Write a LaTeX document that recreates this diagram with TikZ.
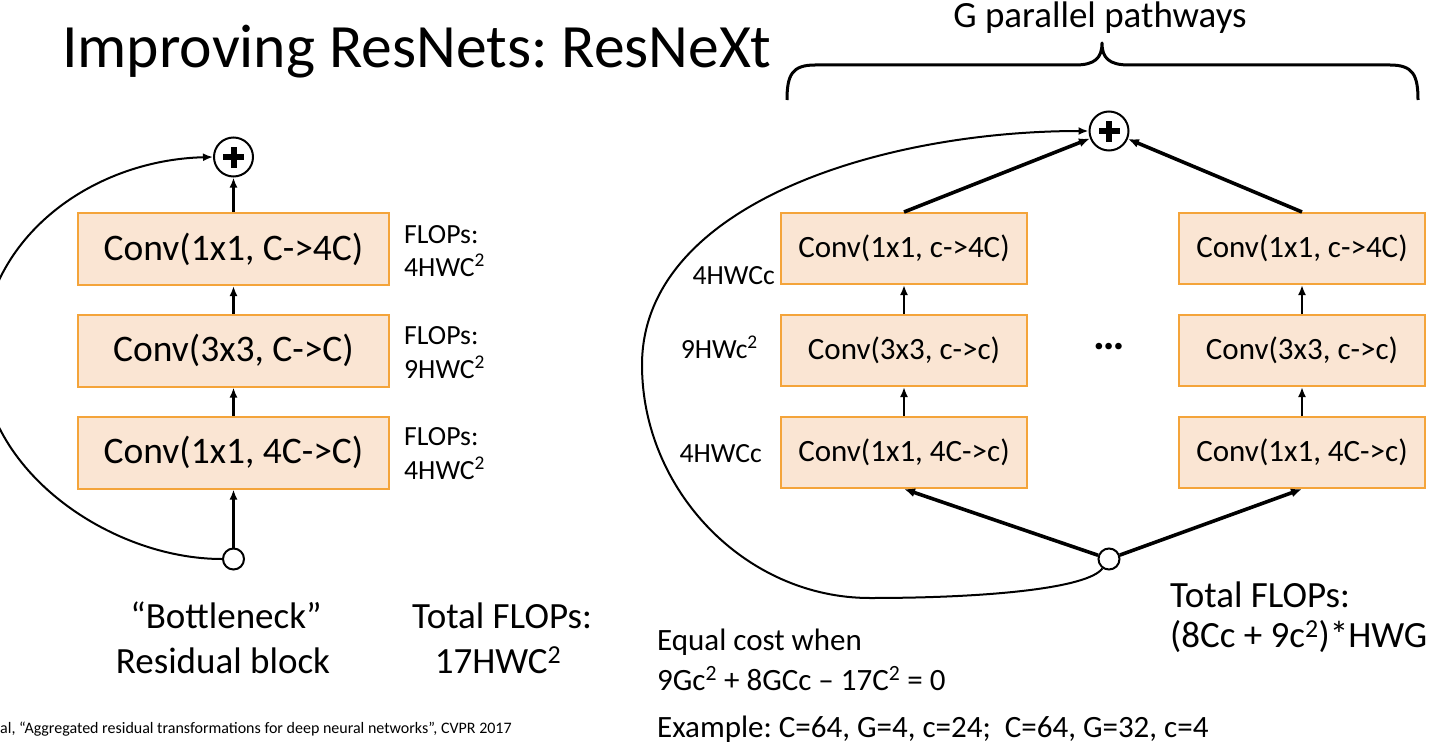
\documentclass[tikz,border=0pt]{standalone}
\usepackage{fontspec}
\setmainfont{Carlito}
\usetikzlibrary{arrows.meta}
\definecolor{boxfill}{RGB}{250,229,211}
\definecolor{boxline}{RGB}{244,164,58}
\newcommand{\fsz}[2]{\fontsize{#1}{#2}\selectfont}
\frenchspacing
\begin{document}
\begin{tikzpicture}[x=1pt,y=-1pt,
  txt/.style={inner sep=0pt, anchor=base west},
  convL/.style={draw=boxline, fill=boxfill, line width=2pt, minimum width=311pt,
    minimum height=72pt, inner sep=0pt, font=\fsz{37.5}{44}},
  convR/.style={draw=boxline, fill=boxfill, line width=2pt, minimum width=246pt,
    minimum height=71pt, inner sep=0pt, font=\fsz{31}{37}},
  sumnode/.style={circle, draw, line width=2pt, minimum size=39pt, inner sep=0pt, fill=white,
    path picture={
      \fill[black] ([xshift=-10.5pt,yshift=-3pt]path picture bounding box.center) rectangle ([xshift=10.5pt,yshift=3pt]path picture bounding box.center);
      \fill[black] ([xshift=-3pt,yshift=-10.5pt]path picture bounding box.center) rectangle ([xshift=3pt,yshift=10.5pt]path picture bounding box.center);}},
  innode/.style={circle, draw, line width=2pt, minimum size=21pt, inner sep=0pt, fill=white},
  arr/.style={-{Latex[length=10pt,width=8pt]}, line width=2.6pt},
  arrthick/.style={-{Latex[length=11pt,width=9pt]}, line width=3.6pt},
  curve/.style={-{Latex[length=10pt,width=8pt]}, line width=2pt},
  flops/.style={txt, font=\fsz{27.7}{33}},
  side/.style={inner sep=0pt, anchor=base east, font=\fsz{27.7}{33}},
  big/.style={txt, font=\fsz{37}{44}},
  mid/.style={txt, font=\fsz{31}{37}}
]
\useasboundingbox (0,0) rectangle (1448,752);
\clip (0,0) rectangle (1448,752);

% title
\node[txt, font=\fsz{61.6}{70}] (title) at (62,67) {Improving ResNets: ResNeXt};

% ---------- bottleneck residual block ----------
\node[convL] (l1) at (233.5,249) {Conv(1x1, C->4C)};
\node[convL] (l2) at (233.5,350.5) {Conv(3x3, C->C)};
\node[convL] (l3) at (233.5,452.5) {Conv(1x1, 4C->C)};
\node[sumnode] (sumL) at (233.5,157) {};
\node[innode] (inL) at (233.5,559) {};

\draw[arr] (inL) -- (l3);
\draw[arr] (l3) -- (l2);
\draw[arr] (l2) -- (l1);
\draw[arr] (l1) -- (sumL);
\draw[curve] (inL.west) .. controls (110,559) and (-18,470) .. (-18,357)
  .. controls (-18,240) and (90,160) .. (sumL.west);

\node[flops] (fa1) at (404,243) {FLOPs:};
\node[flops] (fa2) at (404,276) {4HWC\textsuperscript{2}};
\node[flops] (fb1) at (404,344) {FLOPs:};
\node[flops] (fb2) at (404,378) {9HWC\textsuperscript{2}};
\node[flops] (fc1) at (404,445) {FLOPs:};
\node[flops] (fc2) at (404,479) {4HWC\textsuperscript{2}};

\node[inner sep=0pt, anchor=base, font=\fsz{37}{44}] (bn1) at (226,628) {“Bottleneck”};
\node[inner sep=0pt, anchor=base, font=\fsz{37}{44}] (bn2) at (223,673) {Residual block};
\node[inner sep=0pt, anchor=base, font=\fsz{37}{44}] (tl1) at (502,628) {Total FLOPs:};
\node[inner sep=0pt, anchor=base, font=\fsz{37}{44}] (tl2) at (498,673) {17HWC\textsuperscript{2}};

% ---------- ResNeXt block ----------
\node[convR] (a1) at (904,248.5) {Conv(1x1, c->4C)};
\node[convR] (a2) at (904,350.5) {Conv(3x3, c->c)};
\node[convR] (a3) at (904,452.5) {Conv(1x1, 4C->c)};
\node[convR] (b1) at (1302,248.5) {Conv(1x1, c->4C)};
\node[convR] (b2) at (1302,350.5) {Conv(3x3, c->c)};
\node[convR] (b3) at (1302,452.5) {Conv(1x1, 4C->c)};
\node[sumnode] (sumR) at (1109,131) {};
\node[innode] (inR) at (1109,559) {};
\node[inner sep=0pt, font=\fsz{44}{52}\bfseries] (dots) at (1109,347) {…};

\draw[arr] (a3) -- (a2);
\draw[arr] (a2) -- (a1);
\draw[arr] (b3) -- (b2);
\draw[arr] (b2) -- (b1);
\draw[arrthick] (inR) -- (a3.south);
\draw[arrthick] (inR) -- (b3.south);
\draw[arrthick] (a1.north) -- (sumR);
\draw[arrthick] (b1.north) -- (sumR);
\draw[curve] (inR.235) .. controls (1088,588) and (990,598) .. (870,598)
  .. controls (745,598) and (642,490) .. (642,365)
  .. controls (642,205) and (880,131) .. (sumR.west);

\node[side] (sa) at (775,284) {4HWCc};
\node[side] (sb) at (758,358) {9HWc\textsuperscript{2}};
\node[side] (sc) at (762,462) {4HWCc};

% brace over the pathways
\draw[line width=3pt, line join=round]
  (787,100) .. controls (787,75) and (792,65) .. (815,65) -- (1075,65)
  .. controls (1095,65) and (1102,58) .. (1102,43)
  .. controls (1102,58) and (1109,65) .. (1129,65) -- (1390,65)
  .. controls (1413,65) and (1418,75) .. (1418,100);
\node[inner sep=0pt, anchor=base, font=\fsz{37}{44}] (gpp) at (1100,28) {G parallel pathways};

\node[big] (tr1) at (1170,607) {Total FLOPs:};
\node[big] (tr2) at (1170,647) {(8Cc + 9c\textsuperscript{2})*HWG};

\node[mid] (eq1) at (657,650) {Equal cost when};
\node[mid] (eq2) at (657,690) {9Gc\textsuperscript{2} + 8GCc – 17C\textsuperscript{2} = 0};
\node[mid] (ex) at (657,737) {Example: C=64, G=4, c=24;\ \ C=64, G=32, c=4};

% reference
\node[txt, font=\fsz{16}{19}] (ref) at (0,733) {al, “Aggregated residual transformations for deep neural networks”, CVPR 2017};
\end{tikzpicture}
\end{document}
